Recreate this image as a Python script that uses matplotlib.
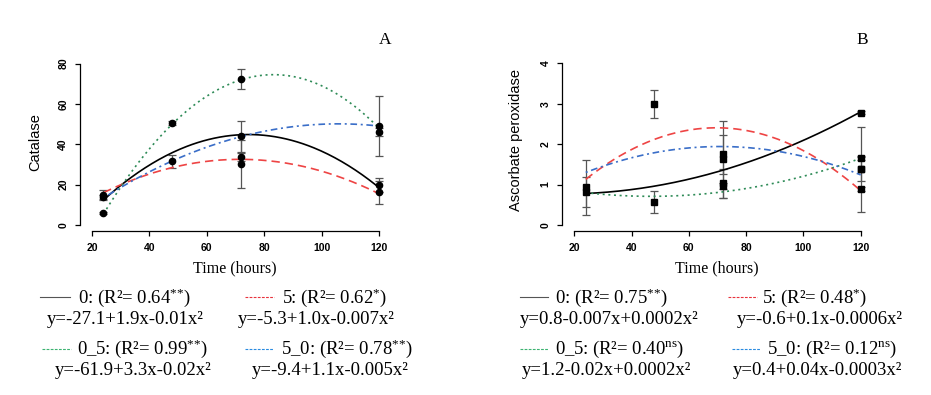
import matplotlib.pyplot as plt
import numpy as np
from matplotlib.lines import Line2D

plt.rcParams['mathtext.fontset'] = 'custom'
plt.rcParams['mathtext.rm'] = 'Liberation Serif'
plt.rcParams['mathtext.it'] = 'Liberation Serif:italic'
plt.rcParams['mathtext.bf'] = 'Liberation Serif:bold'

W, H = 931, 395

# sampling times and axis ticks
hours = [24, 48, 72, 120]
xticks = [20, 40, 60, 80, 100, 120]

# Panel A - catalase: observed means with error bars
cat_t = [24, 24, 24, 48, 48, 72, 72, 72, 72, 120, 120, 120, 120]
cat_mean = [14.9, 14.0, 5.8, 50.5, 31.6, 72.3, 44.0, 33.8, 30.2, 49.2, 45.9, 19.8, 16.2]
cat_err = [2.4, 1.0, 0.5, 0.8, 3.3, 5.0, 7.6, 2.0, 11.7, 14.8, 2.0, 3.6, 5.8]
cat_yticks = [0, 20, 40, 60, 80]

# fitted curve values read at each sampling time
cat_fit_0 = [12.5, 35.5, 45.0, 18.5]
cat_fit_5 = [16.0, 28.5, 32.5, 15.5]
cat_fit_05 = [5.5, 50.0, 72.0, 48.0]
cat_fit_50 = [13.5, 31.5, 44.0, 49.0]

cat_labels = ["0: (R²= 0.64$^{{*}{*}}$)", "5: (R²= 0.62$^{*}$)",
              "0_5: (R²= 0.99$^{{*}{*}}$)", "5_0: (R²= 0.78$^{{*}{*}}$)"]
cat_eqs = ["y=-27.1+1.9x-0.01x²", "y=-5.3+1.0x-0.007x²",
           "y=-61.9+3.3x-0.02x²", "y=-9.4+1.1x-0.005x²"]

# Panel B - ascorbate peroxidase
apx_t = [24, 24, 48, 48, 72, 72, 72, 72, 120, 120, 120, 120, 120]
apx_mean = [0.93, 0.82, 3.0, 0.57, 1.75, 1.63, 1.03, 0.97, 2.78, 1.65, 1.38, 1.38, 0.9]
apx_err = [0.68, 0.37, 0.35, 0.28, 0.48, 0.95, 0.35, 0.08, 0.04, 0.05, 1.05, 0.3, 0.05]
apx_yticks = [0, 1, 2, 3, 4]

apx_fit_0 = [0.78, 0.96, 1.36, 2.8]
apx_fit_5 = [1.13, 2.12, 2.4, 0.85]
apx_fit_05 = [0.8, 0.71, 0.82, 1.65]
apx_fit_50 = [1.3, 1.79, 1.94, 1.24]

apx_labels = ["0: (R²= 0.75$^{{*}{*}}$)", "5: (R²= 0.48$^{*}$)",
              "0_5: (R²= 0.40$^{\\rm ns}$)", "5_0: (R²= 0.12$^{\\rm ns}$)"]
apx_eqs = ["y=0.8-0.007x+0.0002x²", "y=-0.6+0.1x-0.0006x²",
           "y=1.2-0.02x+0.0002x²", "y=0.4+0.04x-0.0003x²"]

# curve styles: (colour, dash pattern)
styles = [("black", None), ("#ee4444", (5, 3)), ("#2e8b57", (1.2, 2.2)), ("#3a6ec8", (1.2, 2.2, 4, 2.2))]
leg_colors = ["#555555", "#e8333d", "#3cb371", "#2a8be0"]


def px(x, y):
    return x / W, 1 - y / H


def panel(ax, t, mean, err, fits, yticks, marker):
    ax.errorbar(t, mean, yerr=err, fmt='none', ecolor='#555555',
                elinewidth=0.9, capsize=3, capthick=0.9, clip_on=False)
    xs = np.linspace(24, 120, 200)
    for fit, (color, dashes) in zip(fits, styles):
        coef = np.polyfit(hours, fit, 2)
        line, = ax.plot(xs, np.polyval(coef, xs), color=color, lw=1.2, clip_on=False)
        if dashes:
            line.set_dashes(dashes)
    ax.plot(t, mean, marker, color='black', ms=4.5, ls='none', clip_on=False)
    ax.set_xlim(20, 120)
    ax.set_ylim(yticks[0], yticks[-1])
    ax.set_xticks(xticks)
    ax.set_yticks(yticks)
    for s in ['top', 'right']:
        ax.spines[s].set_visible(False)
    ax.spines['left'].set_position(('outward', 9))
    ax.spines['bottom'].set_position(('outward', 4.5))
    ax.spines['left'].set_bounds(yticks[0], yticks[-1])
    ax.spines['bottom'].set_bounds(20, 120)
    for s in ['left', 'bottom']:
        ax.spines[s].set_linewidth(0.9)
    ax.tick_params(length=3.6, width=0.9, labelsize=7.5, pad=4.5)
    ax.tick_params(axis='y', labelrotation=90)
    for lab in ax.get_xticklabels() + ax.get_yticklabels():
        lab.set_fontweight('bold')
        lab.set_family('Liberation Sans')
    for lab in ax.get_yticklabels():
        lab.set_va('center')


def legend(fig, x_line, x_text, x_eq, labels, eqs):
    rows = [(296.5, 303, 324), (296.5, 303, 324), (349, 354, 375), (349, 354, 375)]
    for i in range(4):
        ly, ty, ey = rows[i]
        x0, x1 = x_line[i]
        (a, b), (c, d) = px(x0, ly), px(x1, ly)
        ln = Line2D([a, c], [b, d], transform=fig.transFigure, color=leg_colors[i], lw=0.8)
        if i > 0:
            ln.set_dashes((2.5, 1.2))
        fig.add_artist(ln)
        fig.text(*px(x_text[i], ty), labels[i], fontsize=13.5, family='Liberation Serif',
                 ha='left', va='baseline')
        fig.text(*px(x_eq[i], ey), eqs[i], fontsize=13.5, family='Liberation Serif',
                 ha='left', va='baseline')


fig = plt.figure(figsize=(9.31, 3.95), dpi=100)

axA = fig.add_axes([92 / W, 1 - 225 / H, 287 / W, 161.5 / H])
panel(axA, cat_t, cat_mean, cat_err, [cat_fit_0, cat_fit_5, cat_fit_05, cat_fit_50], cat_yticks, 'o')

axB = fig.add_axes([574.3 / W, 1 - 225 / H, 286.4 / W, 161.7 / H])
panel(axB, apx_t, apx_mean, apx_err, [apx_fit_0, apx_fit_5, apx_fit_05, apx_fit_50], apx_yticks, 's')

# axis titles
fig.text(*px(35, 142), "Catalase", rotation=90, ha='center', va='center',
         fontsize=10.5, family='Liberation Sans')
fig.text(*px(516, 140), "Ascorbate peroxidase", rotation=90, ha='center', va='center',
         fontsize=10.5, family='Liberation Sans')
fig.text(*px(235, 272.5), "Time (hours)", ha='center', va='baseline',
         fontsize=11.5, family='Liberation Serif')
fig.text(*px(717, 272.5), "Time (hours)", ha='center', va='baseline',
         fontsize=11.5, family='Liberation Serif')
fig.text(*px(385, 44), "A", ha='center', va='baseline', fontsize=12.5, family='Liberation Serif')
fig.text(*px(862, 44), "B", ha='center', va='baseline', fontsize=12.5, family='Liberation Serif')

legend(fig, [(40, 70), (245, 274), (42, 71), (245, 273)], [78, 282, 77, 281], [47, 238, 55, 252],
       cat_labels, cat_eqs)
legend(fig, [(520, 548), (728, 757), (520, 548), (732, 760)], [555, 762, 555, 767], [520, 737, 522, 733],
       apx_labels, apx_eqs)

fig.savefig("out.png", dpi=100)
